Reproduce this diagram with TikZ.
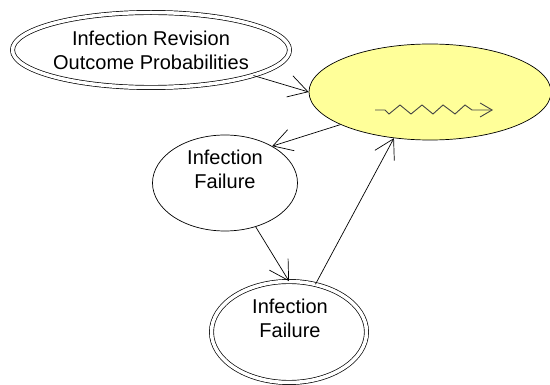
\documentclass[tikz,border=0pt]{standalone}
\usepackage{fontspec}
\setmainfont{Liberation Sans}
\usetikzlibrary{shapes.geometric,arrows.meta}
\definecolor{softyellow}{HTML}{FFFF99}
\definecolor{zigzaggray}{HTML}{444444}
\tikzset{
  lbl/.style={font=\fontsize{20pt}{24pt}\selectfont, align=center, inner sep=0pt},
  oval/.style={ellipse, draw, line width=0.7pt, inner sep=0pt},
  doubleoval/.style={oval, double, double distance=3.5pt},
  conn/.style={line width=0.7pt, -{Straight Barb[length=19pt,width=22pt,line width=0.7pt]}},
}
\begin{document}
\begin{tikzpicture}[x=1pt,y=-1pt]
\useasboundingbox (0,0) rectangle (550,385);
% nodes
\node[doubleoval, lbl, minimum width=277pt, minimum height=75pt] (tl) at (151,50)
  {Infection Revision\\Outcome Probabilities};
\node[oval, fill=softyellow, minimum width=242pt, minimum height=96pt] (y) at (430,92) {};
\node[oval, minimum width=145pt, minimum height=96pt] (mid) at (225,183) {};
\node[lbl] (midtxt) at (225,169) {Infection\\Failure};
\node[doubleoval, minimum width=155pt, minimum height=101pt] (bot) at (289,332) {};
\node[lbl] (bottxt) at (290,318) {Infection\\Failure};
% zigzag symbol inside the yellow node
\draw[zigzaggray, line width=0.9pt, -{Straight Barb[length=12pt,width=14pt,line width=0.9pt]}]
  (375,110) -- (385,110) -- (389,114) -- (400,105) -- (411,114) -- (422,105) -- (433,114)
  -- (443,105) -- (455,114) -- (465,105) -- (472,110) -- (493,110);
% connectors
\draw[conn] (tl.-14.8) -- (y.180);
\draw[conn] (y.200) -- (mid.38);
\draw[conn] (mid.-55.7) -- (bot.90);
\draw[conn] (bot.61.6) -- (y.232.8);
\end{tikzpicture}
\end{document}
